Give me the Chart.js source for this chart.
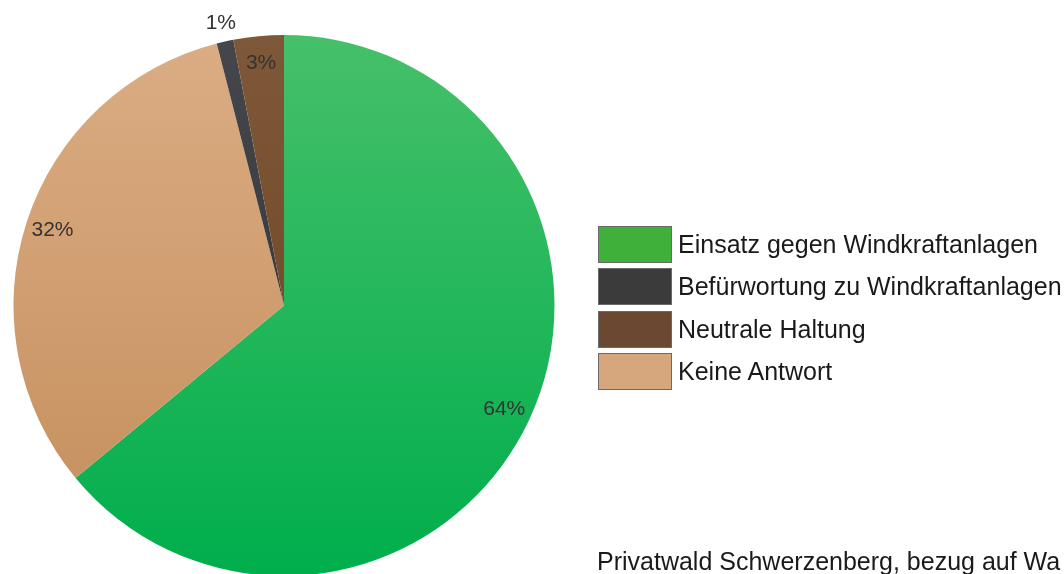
<!DOCTYPE html>
<html>
<head>
<meta charset="utf-8">
<script src="https://cdn.jsdelivr.net/npm/chart.js@4.4.1/dist/chart.umd.min.js"></script>
<style>
  html, body { margin: 0; padding: 0; background: #ffffff; overflow: hidden; width: 1064px; height: 574px; }
  #wrap { position: absolute; left: 0; top: 0; width: 1064px; height: 600px; }
  #legend { position: absolute; left: 598px; top: 226px; font-family: "Liberation Sans", Arial, sans-serif; font-size: 25px; color: #1a1a1a; }
  .item { position: relative; height: 37px; margin-bottom: 5.3px; white-space: nowrap; }
  .box { position: absolute; left: 0; top: 0; width: 72px; height: 35px; border: 1px solid #6a6a6a; }
  .txt { position: absolute; left: 80px; top: 0; line-height: 37px; }
  #note { position: absolute; left: 597px; top: 547px; font-family: "Liberation Sans", Arial, sans-serif; font-size: 25px; color: #1a1a1a; white-space: nowrap; }
</style>
</head>
<body>
<div id="wrap"><canvas id="myChart" width="1064" height="600"></canvas></div>
<div id="legend"></div>
<div id="note">Privatwald Schwerzenberg, bezug auf Wa</div>
<script>
// slice order clockwise from 12 o'clock
const labels = ['Einsatz gegen Windkraftanlagen', 'Keine Antwort', 'Befürwortung zu Windkraftanlagen', 'Neutrale Haltung'];
const values = [64, 32, 1, 3];
const percentLabels = ['64%', '32%', '1%', '3%'];
// legend order as in the picture
const legendOrder = ['Einsatz gegen Windkraftanlagen', 'Befürwortung zu Windkraftanlagen', 'Neutrale Haltung', 'Keine Antwort'];

const flatColors = {
  'Einsatz gegen Windkraftanlagen': '#3fb13a',
  'Befürwortung zu Windkraftanlagen': '#3b3b3b',
  'Neutrale Haltung': '#6b4832',
  'Keine Antwort': '#d6a67c'
};
// top / bottom colour of the slice gradients
const gradStops = {
  'Einsatz gegen Windkraftanlagen': ['#46c06a', '#00ae4c'],
  'Befürwortung zu Windkraftanlagen': ['#45474c', '#2e2f33'],
  'Neutrale Haltung': ['#7e5838', '#6a421f'],
  'Keine Antwort': ['#dbad84', '#c48d5a']
};

function sliceColor(context) {
  const chart = context.chart;
  const name = labels[context.dataIndex];
  const area = chart.chartArea;
  if (!area) return flatColors[name];
  const g = chart.ctx.createLinearGradient(0, area.top, 0, area.bottom);
  g.addColorStop(0, gradStops[name][0]);
  g.addColorStop(1, gradStops[name][1]);
  return g;
}

const percentPlugin = {
  id: 'percentPlugin',
  afterDatasetsDraw(chart) {
    const ctx = chart.ctx;
    const meta = chart.getDatasetMeta(0);
    ctx.save();
    ctx.font = '21px "Liberation Sans", Arial, sans-serif';
    ctx.fillStyle = '#333333';
    ctx.textAlign = 'center';
    ctx.textBaseline = 'middle';
    meta.data.forEach(function (arc, i) {
      const mid = (arc.startAngle + arc.endAngle) / 2;
      const f = values[i] < 2 ? 1.07 : 0.9;
      const r = arc.outerRadius * f;
      ctx.fillText(percentLabels[i], arc.x + Math.cos(mid) * r, arc.y + Math.sin(mid) * r);
    });
    ctx.restore();
  }
};

const data = {
  labels: labels,
  datasets: [{
    data: values,
    backgroundColor: sliceColor,
    borderWidth: 0
  }]
};

const config = {
  type: 'pie',
  data: data,
  options: {
    responsive: false,
    animation: false,
    devicePixelRatio: 1,
    layout: { padding: { left: 13, top: 35, right: 509, bottom: 24 } },
    plugins: {
      legend: { display: false },
      tooltip: { enabled: false }
    }
  },
  plugins: [percentPlugin]
};

const myChart = new Chart(document.getElementById('myChart'), config);

// legend
const legend = document.getElementById('legend');
legendOrder.forEach(function (name) {
  const item = document.createElement('div');
  item.className = 'item';
  item.innerHTML = '<div class="box" style="background:' + flatColors[name] + '"></div><div class="txt">' + name + '</div>';
  legend.appendChild(item);
});
</script>
</body>
</html>
